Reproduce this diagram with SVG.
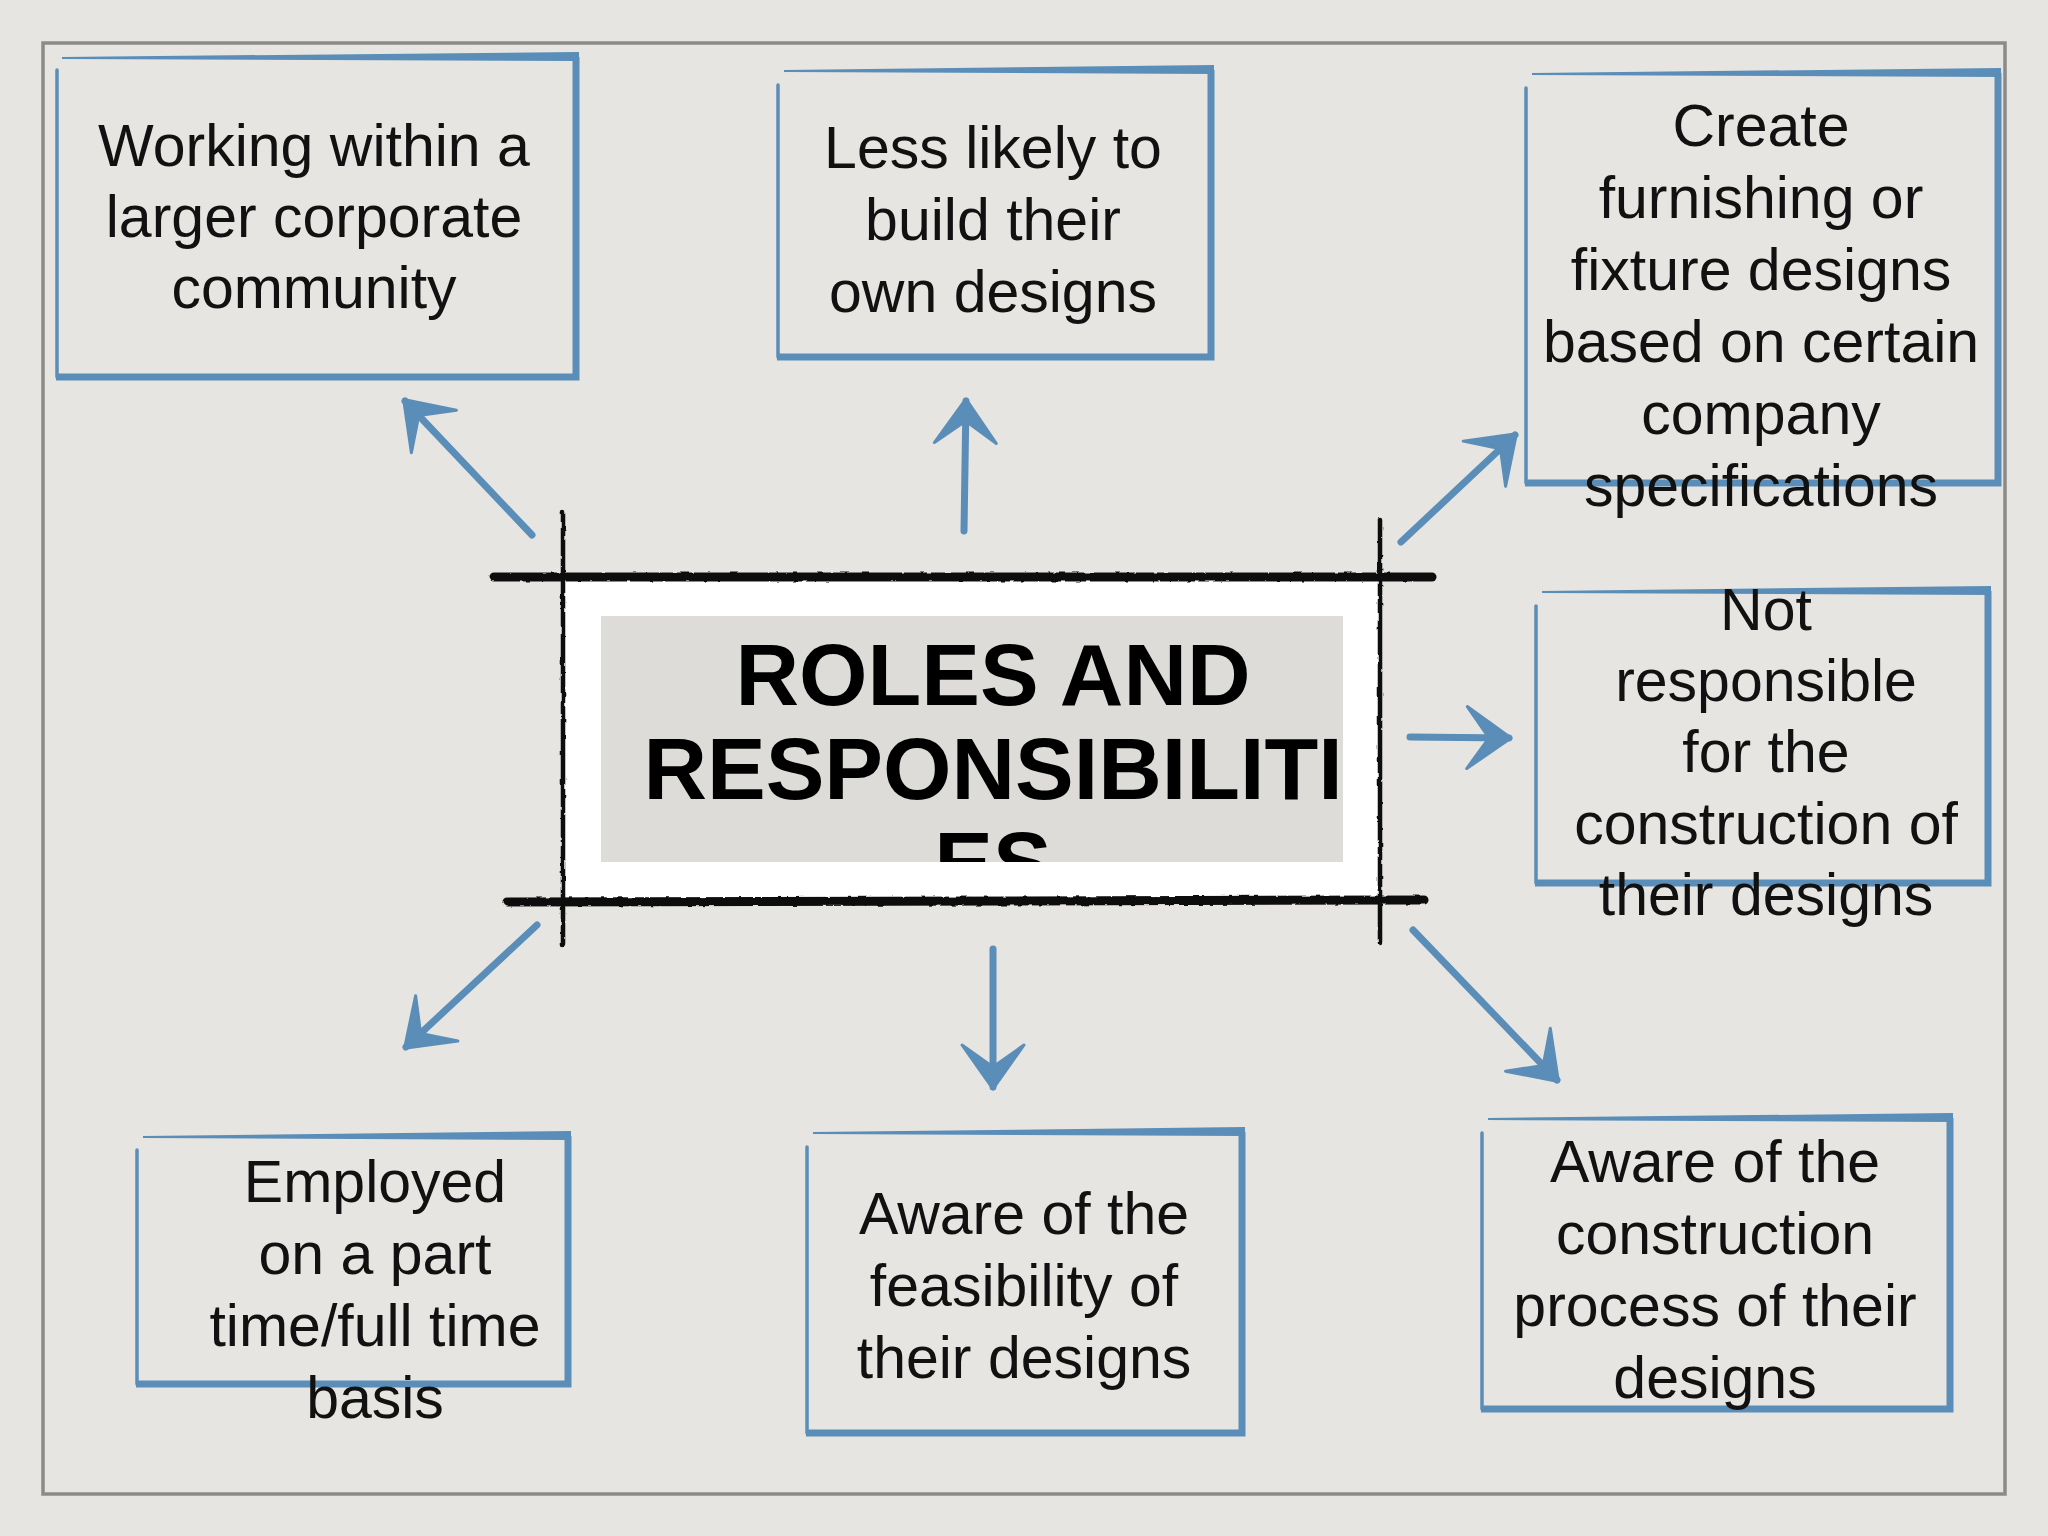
<svg xmlns="http://www.w3.org/2000/svg" width="2048" height="1536" viewBox="0 0 2048 1536">
<defs>
<style>
.bg{fill:#e6e5e1}
.frame{fill:none;stroke:#8a8a88;stroke-width:3.5}
.edge{fill:none;stroke:#5a8db7;stroke-width:7;stroke-linejoin:miter}
.thin{fill:none;stroke:#5a8db7;stroke-width:3.5;stroke-linecap:round}
.taper{fill:#5a8db7}
.lbl{font-family:"Liberation Sans",Arial,sans-serif;font-size:59px;fill:#111;text-anchor:middle}
.title{font-family:"Liberation Sans",Arial,sans-serif;font-size:88px;font-weight:bold;fill:#000;text-anchor:middle}
.conn{fill:none;stroke:#5a8db7;stroke-width:7;stroke-linecap:round}
.ink{fill:none;stroke:#111;stroke-linecap:round}
</style>
<filter id="rough" x="-5%" y="-20%" width="110%" height="140%">
<feTurbulence type="fractalNoise" baseFrequency="0.12" numOctaves="2" seed="3" result="n"/>
<feDisplacementMap in="SourceGraphic" in2="n" scale="3" xChannelSelector="R" yChannelSelector="G"/>
</filter>
<marker id="ah" markerUnits="userSpaceOnUse" viewBox="-50 -40 56 80" refX="0" refY="0" markerWidth="56" markerHeight="80" orient="auto">
<path d="M2,0 L-42,-31 L-20,0 L-42,31 Z" fill="#5a8db7" stroke="#5a8db7" stroke-width="3" stroke-linejoin="round"/>
</marker>
<clipPath id="tclip"><rect x="601" y="616" width="742" height="246"/></clipPath>
</defs>
<rect class="bg" x="0" y="0" width="2048" height="1536"/>
<rect class="frame" x="43" y="43" width="1962" height="1451"/>

<g id="center">
<rect x="563" y="580" width="817" height="320" fill="#ffffff"/>
<rect x="601" y="616" width="742" height="246" fill="#dddcd8"/>
<g clip-path="url(#tclip)">
<text class="title" x="993" y="705">ROLES AND</text>
<text class="title" x="993" y="799">RESPONSIBILITI</text>
<text class="title" x="993" y="893">ES</text>
</g>
<g filter="url(#rough)">
<line class="ink" x1="494" y1="577" x2="1432" y2="577" stroke-width="9"/>
<line class="ink" x1="507" y1="902" x2="1424" y2="900" stroke-width="9"/>
<line class="ink" x1="563" y1="512" x2="563" y2="945" stroke-width="4.5"/>
<line class="ink" x1="1380" y1="520" x2="1380" y2="942" stroke-width="4.5"/>
</g>
</g>

<g id="connectors">
<line class="conn" x1="532" y1="535" x2="405" y2="401" marker-end="url(#ah)"/>
<line class="conn" x1="964" y1="531" x2="966" y2="401" marker-end="url(#ah)"/>
<line class="conn" x1="1401" y1="542" x2="1515" y2="435" marker-end="url(#ah)"/>
<line class="conn" x1="1410" y1="737" x2="1509" y2="738" marker-end="url(#ah)"/>
<line class="conn" x1="537" y1="925" x2="406" y2="1047" marker-end="url(#ah)"/>
<line class="conn" x1="993" y1="949" x2="993" y2="1087" marker-end="url(#ah)"/>
<line class="conn" x1="1413" y1="930" x2="1557" y2="1080" marker-end="url(#ah)"/>
</g>

<g id="n1">
<path class="edge" d="M56,377 L576,377 L576,57"/>
<polygon class="taper" points="62,57 579,52 579,61 62,59"/>
<line class="thin" x1="57" y1="70" x2="57" y2="377"/>
<text class="lbl" x="314" y="166">Working within a</text>
<text class="lbl" x="314" y="237">larger corporate</text>
<text class="lbl" x="314" y="308">community</text>
</g>

<g id="n2">
<path class="edge" d="M777,357 L1211,357 L1211,70"/>
<polygon class="taper" points="784,70 1214,65 1214,74 784,72"/>
<line class="thin" x1="778" y1="85" x2="778" y2="357"/>
<text class="lbl" x="993" y="168">Less likely to</text>
<text class="lbl" x="993" y="240">build their</text>
<text class="lbl" x="993" y="312">own designs</text>
</g>

<g id="n3">
<path class="edge" d="M1525,483 L1998,483 L1998,73"/>
<polygon class="taper" points="1532,73 2001,68 2001,77 1532,75"/>
<line class="thin" x1="1526" y1="88" x2="1526" y2="483"/>
<text class="lbl" x="1761" y="146">Create</text>
<text class="lbl" x="1761" y="218">furnishing or</text>
<text class="lbl" x="1761" y="290">fixture designs</text>
<text class="lbl" x="1761" y="362">based on certain</text>
<text class="lbl" x="1761" y="434">company</text>
<text class="lbl" x="1761" y="506">specifications</text>
</g>

<g id="n4">
<path class="edge" d="M1535,883 L1988,883 L1988,591"/>
<polygon class="taper" points="1542,591 1991,586 1991,595 1542,593"/>
<line class="thin" x1="1536" y1="606" x2="1536" y2="883"/>
<text class="lbl" x="1766" y="630">Not</text>
<text class="lbl" x="1766" y="701">responsible</text>
<text class="lbl" x="1766" y="772">for the</text>
<text class="lbl" x="1766" y="844">construction of</text>
<text class="lbl" x="1766" y="915">their designs</text>
</g>

<g id="n5">
<path class="edge" d="M136,1384 L568,1384 L568,1136"/>
<polygon class="taper" points="143,1136 571,1131 571,1140 143,1138"/>
<line class="thin" x1="137" y1="1150" x2="137" y2="1384"/>
<text class="lbl" x="375" y="1202">Employed</text>
<text class="lbl" x="375" y="1274">on a part</text>
<text class="lbl" x="375" y="1346">time/full time</text>
<text class="lbl" x="375" y="1418">basis</text>
</g>

<g id="n6">
<path class="edge" d="M806,1433 L1242,1433 L1242,1132"/>
<polygon class="taper" points="813,1132 1245,1127 1245,1136 813,1134"/>
<line class="thin" x1="807" y1="1147" x2="807" y2="1433"/>
<text class="lbl" x="1024" y="1234">Aware of the</text>
<text class="lbl" x="1024" y="1306">feasibility of</text>
<text class="lbl" x="1024" y="1378">their designs</text>
</g>

<g id="n7">
<path class="edge" d="M1481,1409 L1950,1409 L1950,1118"/>
<polygon class="taper" points="1488,1118 1953,1113 1953,1122 1488,1120"/>
<line class="thin" x1="1482" y1="1133" x2="1482" y2="1409"/>
<text class="lbl" x="1715" y="1182">Aware of the</text>
<text class="lbl" x="1715" y="1254">construction</text>
<text class="lbl" x="1715" y="1326">process of their</text>
<text class="lbl" x="1715" y="1398">designs</text>
</g>
</svg>
